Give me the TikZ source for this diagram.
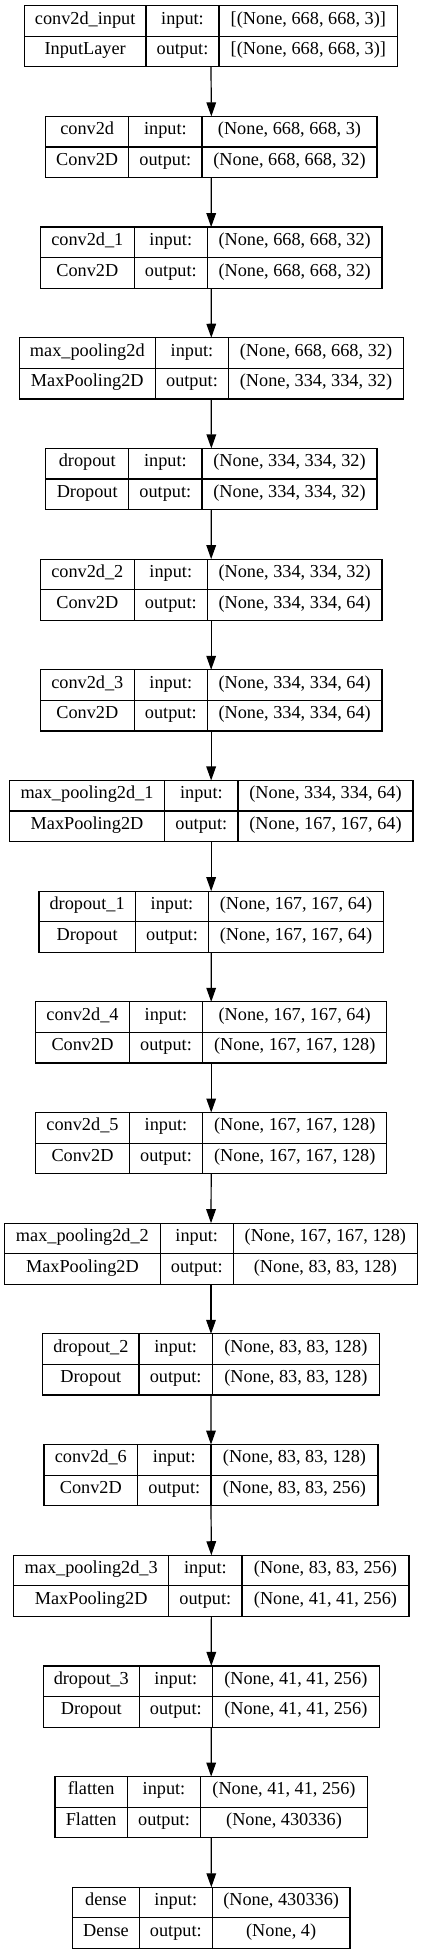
\documentclass[tikz,border=0pt]{standalone}
\usepackage{fontspec}
\setmainfont{Liberation Serif}
\usetikzlibrary{arrows.meta}
\newcommand{\layerfont}{\fontsize{13.7}{16}\selectfont}
\tikzset{
  cell/.style={draw, line width=0.9pt, inner sep=0pt, outer sep=0pt, anchor=north west,
    minimum height=22.95pt, text height=0.68em, text depth=0.22em, font=\layerfont},
  frame/.style={inner sep=0pt, outer sep=0pt, anchor=north west, minimum height=45.9pt},
  flow/.style={-{Triangle[length=10.5pt,width=7.2pt]}, line width=0.9pt}
}
% #1 index, #2 name, #3 class, #4 input shape, #5 output shape, #6-#9 column edges (px)
\newcommand{\layerbox}[9]{%
  \pgfmathsetmacro{\ytop}{5.7+(#1-1)*110.68}
  \pgfmathsetmacro{\ymid}{\ytop+30.6}
  \node[frame, minimum width={(#9-#6)*0.75pt}] (L#1) at (#6,\ytop) {};
  % top row
  \node[cell, minimum width={(#7-#6)*0.75pt}] (L#1-name) at (#6,\ytop) {#2};
  \node[cell, minimum width={(#8-#7)*0.75pt}] (L#1-inlab) at (#7,\ytop) {input:};
  \node[cell, minimum width={(#9-#8)*0.75pt}] (L#1-in) at (#8,\ytop) {#4};
  % bottom row
  \node[cell, minimum width={(#7-#6)*0.75pt}] (L#1-type) at (#6,\ymid) {#3};
  \node[cell, minimum width={(#8-#7)*0.75pt}] (L#1-outlab) at (#7,\ymid) {output:};
  \node[cell, minimum width={(#9-#8)*0.75pt}] (L#1-out) at (#8,\ymid) {#5};
}

\begin{document}
\begin{tikzpicture}[x=0.75pt, y=-0.75pt]
  \useasboundingbox (0,0) rectangle (423,1955);
  % Layers
  \layerbox{1}{conv2d\_input}{InputLayer}{[(None, 668, 668, 3)]}{[(None, 668, 668, 3)]}{24.3}{146}{219}{397.7}
  \layerbox{2}{conv2d}{Conv2D}{(None, 668, 668, 3)}{(None, 668, 668, 32)}{45.7}{128.7}{202}{377}
  \layerbox{3}{conv2d\_1}{Conv2D}{(None, 668, 668, 32)}{(None, 668, 668, 32)}{40.3}{134.3}{207.3}{382}
  \layerbox{4}{max\_pooling2d}{MaxPooling2D}{(None, 668, 668, 32)}{(None, 334, 334, 32)}{19.3}{155.3}{228.7}{403.3}
  \layerbox{5}{dropout}{Dropout}{(None, 334, 334, 32)}{(None, 334, 334, 32)}{45.7}{128.7}{202}{377}
  \layerbox{6}{conv2d\_2}{Conv2D}{(None, 334, 334, 32)}{(None, 334, 334, 64)}{40.3}{134.3}{207.3}{382}
  \layerbox{7}{conv2d\_3}{Conv2D}{(None, 334, 334, 64)}{(None, 334, 334, 64)}{40.3}{134.3}{207.3}{382}
  \layerbox{8}{max\_pooling2d\_1}{MaxPooling2D}{(None, 334, 334, 64)}{(None, 167, 167, 64)}{9.3}{164.7}{238}{413}
  \layerbox{9}{dropout\_1}{Dropout}{(None, 167, 167, 64)}{(None, 167, 167, 64)}{39}{135.3}{208.7}{383.3}
  \layerbox{10}{conv2d\_4}{Conv2D}{(None, 167, 167, 64)}{(None, 167, 167, 128)}{35.7}{129.3}{202.7}{386.7}
  \layerbox{11}{conv2d\_5}{Conv2D}{(None, 167, 167, 128)}{(None, 167, 167, 128)}{35.7}{129.3}{202.7}{386.7}
  \layerbox{12}{max\_pooling2d\_2}{MaxPooling2D}{(None, 167, 167, 128)}{(None, 83, 83, 128)}{4.7}{160.1}{233.4}{417.3}
  \layerbox{13}{dropout\_2}{Dropout}{(None, 83, 83, 128)}{(None, 83, 83, 128)}{42.7}{139}{212.3}{379.3}
  \layerbox{14}{conv2d\_6}{Conv2D}{(None, 83, 83, 128)}{(None, 83, 83, 256)}{44}{137.6}{211}{378}
  \layerbox{15}{max\_pooling2d\_3}{MaxPooling2D}{(None, 83, 83, 256)}{(None, 41, 41, 256)}{13.7}{168.7}{242}{409}
  \layerbox{16}{dropout\_3}{Dropout}{(None, 41, 41, 256)}{(None, 41, 41, 256)}{43.3}{139.3}{212.3}{379.3}
  \layerbox{17}{flatten}{Flatten}{(None, 41, 41, 256)}{(None, 430336)}{55}{127.3}{200.7}{367.3}
  \layerbox{18}{dense}{Dense}{(None, 430336)}{(None, 4)}{72.7}{139.3}{212.3}{350}
  % Connections
  \foreach \i [evaluate=\i as \j using int(\i+1)] in {1,...,17}{
    \draw[flow] (L\i.south) -- (L\j.north);
  }
\end{tikzpicture}
\end{document}
